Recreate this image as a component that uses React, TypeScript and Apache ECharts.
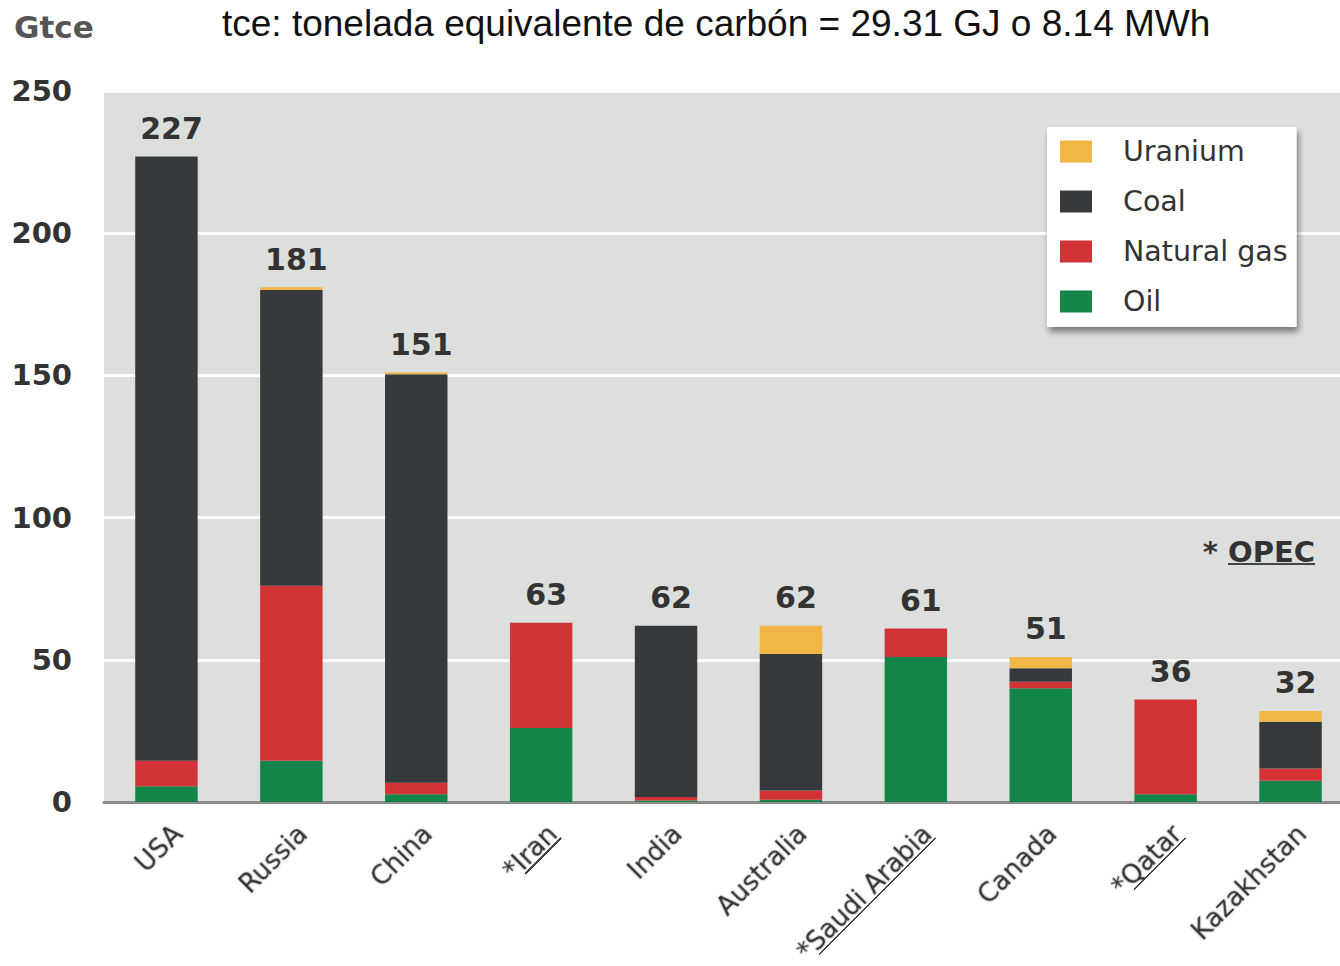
import React, { useEffect, useRef } from "react";
import * as echarts from "echarts";

// Proven reserves by country, Gtce, stacked by fuel
const countries = [
  "USA",
  "Russia",
  "China",
  "*Iran",
  "India",
  "Australia",
  "*Saudi Arabia",
  "Canada",
  "*Qatar",
  "Kazakhstan",
];
const oil = [5.5, 14.5, 2.7, 26, 0.5, 0.8, 51, 40, 2.7, 7.5];
const naturalGas = [9, 61.5, 4.1, 37, 1.3, 3.2, 10, 2.3, 33.3, 4.3];
const coal = [212.5, 104, 143.6, 0, 60.2, 48, 0, 4.7, 0, 16.4];
const uranium = [0, 1, 0.6, 0, 0, 10, 0, 4, 0, 3.8];
const totals = [227, 181, 151, 63, 62, 62, 61, 51, 36, 32];
const yTicks = [0, 50, 100, 150, 200, 250];

const COLORS = {
  oil: "#13854a",
  gas: "#d13337",
  coal: "#363a3c",
  uranium: "#f0b646",
};

const FONT = "DejaVu Sans";

// Underline drawn as a gradient background on a rich-text token
const underline = (color: string, from: number, to: number) =>
  new echarts.graphic.LinearGradient(0, 0, 0, 1, [
    { offset: 0, color: "rgba(0,0,0,0)" },
    { offset: from, color: "rgba(0,0,0,0)" },
    { offset: from, color },
    { offset: to, color },
    { offset: to, color: "rgba(0,0,0,0)" },
    { offset: 1, color: "rgba(0,0,0,0)" },
  ]);

export default function App() {
  const ref = useRef<HTMLDivElement>(null);

  useEffect(() => {
    if (!ref.current) return;
    const chart = echarts.init(ref.current, undefined, { renderer: "svg" });

    const barSeries = (name: string, data: number[], color: string) => ({
      name,
      type: "bar",
      stack: "total",
      data,
      barWidth: "50%",
      itemStyle: { color },
      emphasis: { disabled: true },
    });

    const catText = {
      fontFamily: FONT,
      fontSize: 26,
      color: "#333333",
      lineHeight: 27,
    };

    const option = {
      animation: false,
      backgroundColor: "#ffffff",
      title: [
        {
          text: "Gtce",
          left: 9,
          top: 6,
          textStyle: {
            fontFamily: FONT,
            fontWeight: "bold",
            fontSize: 31,
            color: "#555555",
          },
        },
        {
          text: "tce: tonelada equivalente de carbón = 29.31 GJ o 8.14 MWh",
          left: 217,
          top: 0,
          textStyle: {
            fontFamily: "Liberation Sans",
            fontWeight: "normal",
            fontSize: 37,
            color: "#111111",
          },
        },
      ],
      legend: {
        data: ["Uranium", "Coal", "Natural gas", "Oil"],
        orient: "vertical",
        left: 1047,
        top: 127,
        padding: [10, 9, 11, 13],
        itemGap: 21,
        itemWidth: 32,
        itemHeight: 22,
        icon: "rect",
        backgroundColor: "#ffffff",
        shadowColor: "rgba(0,0,0,0.45)",
        shadowBlur: 6,
        shadowOffsetX: 2,
        shadowOffsetY: 5,
        selectedMode: false,
        textStyle: {
          fontFamily: FONT,
          fontSize: 28.5,
          lineHeight: 28,
          color: "#333333",
          padding: [0, 0, 0, 26],
        },
      },
      grid: {
        left: 104,
        right: -13,
        top: 91,
        bottom: 164,
        outerBoundsMode: "none",
        show: true,
        backgroundColor: "#dcdfdb",
        borderWidth: 0,
      },
      xAxis: {
        type: "category",
        data: countries,
        axisTick: { show: false },
        axisLine: { lineStyle: { color: "#8c8c8c", width: 3 } },
        axisLabel: {
          rotate: 45,
          margin: 16,
          interval: 0,
          verticalAlign: "top",
          padding: [3, 0, 0, 0],
          ...catText,
          textShadowColor: "rgba(0,0,0,0.3)",
          textShadowBlur: 2,
          formatter: (name: string) =>
            name.startsWith("*")
              ? `{s|*}{u|${name.slice(1)}}`
              : `{n|${name}}`,
          rich: {
            n: { ...catText },
            s: { ...catText },
            u: {
              ...catText,
              backgroundColor: underline("#444444", 0.91, 0.98),
            },
          },
        },
      },
      yAxis: {
        type: "value",
        min: 0,
        max: 250,
        interval: 50,
        axisLine: { show: false },
        axisTick: { show: false },
        splitLine: { lineStyle: { color: "#ffffff", width: 3 } },
        axisLabel: {
          margin: 32,
          fontFamily: FONT,
          fontWeight: "bold",
          fontSize: 29,
          color: "#333333",
          formatter: (v: number) => (yTicks.includes(v) ? String(v) : ""),
        },
      },
      series: [
        barSeries("Oil", oil, COLORS.oil),
        barSeries("Natural gas", naturalGas, COLORS.gas),
        barSeries("Coal", coal, COLORS.coal),
        {
          ...barSeries("Uranium", uranium, COLORS.uranium),
          label: {
            show: true,
            position: "top",
            distance: 13,
            offset: [5, 0],
            fontFamily: FONT,
            fontWeight: "bold",
            fontSize: 30,
            color: "#333333",
            formatter: (p: { dataIndex: number }) => String(totals[p.dataIndex]),
          },
        },
      ],
      graphic: [
        {
          type: "text",
          right: 25,
          top: 537,
          style: {
            text: "{a|* }{u|OPEC}",
            fontFamily: FONT,
            fontWeight: "bold",
            fontSize: 29,
            fill: "#333333",
            rich: {
              a: { fontFamily: FONT, fontWeight: "bold", fontSize: 29, fill: "#333333", lineHeight: 34 },
              u: {
                fontFamily: FONT,
                fontWeight: "bold",
                fontSize: 29,
                fill: "#333333",
                lineHeight: 34,
                backgroundColor: underline("#444444", 0.9, 0.96),
              },
            },
          },
        },
      ],
    };

    chart.setOption(option as any);
    return () => chart.dispose();
  }, []);

  return (
    <div
      ref={ref}
      style={{ position: "fixed", left: 0, top: 0, width: 1340, height: 966 }}
    />
  );
}
